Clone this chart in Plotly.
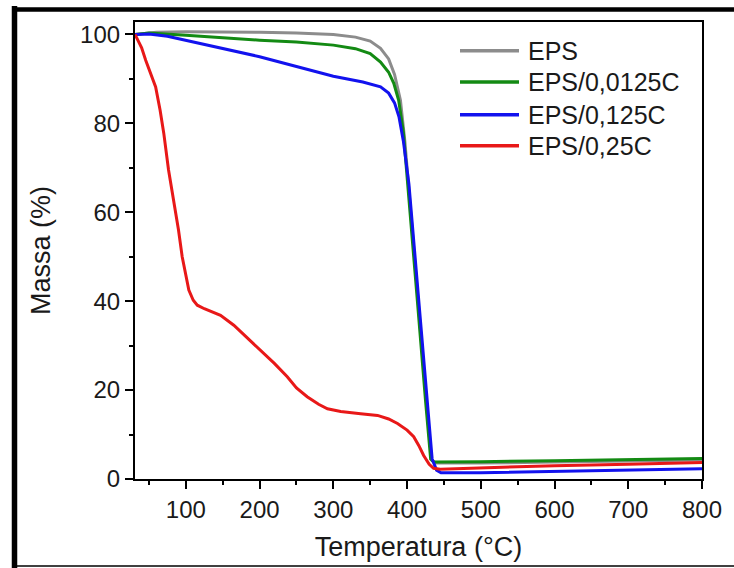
import plotly.graph_objects as go

# ---------------- data ----------------
names = ["EPS", "EPS/0,0125C", "EPS/0,125C", "EPS/0,25C"]
colors = ["#8c8c8c", "#138a13", "#1212ee", "#e81818"]

t_eps = [31, 60, 100, 150, 200, 250, 300, 330, 350, 364, 375, 383, 391, 397, 402, 415, 426, 433, 438, 500, 600, 700, 800]
m_eps = [100, 100.5, 100.6, 100.6, 100.5, 100.3, 100.0, 99.4, 98.5, 96.9, 94.5, 91.0, 85.2, 76.0, 66.4, 40.0, 17.7, 4.5, 3.6, 3.6, 3.8, 4.0, 4.3]

t_g = [31, 50, 100, 150, 200, 250, 300, 330, 350, 364, 375, 382, 388.6, 395, 400.5, 414, 425, 432, 436, 450, 500, 600, 700, 800]
m_g = [100, 100.3, 99.8, 99.2, 98.7, 98.3, 97.6, 96.8, 95.7, 93.8, 91.5, 89.0, 85.2, 78.0, 66.4, 40.0, 17.7, 4.5, 3.8, 3.8, 3.9, 4.1, 4.3, 4.6]

t_b = [31, 50, 75, 100, 150, 200, 250, 300, 340, 364, 375, 383, 389, 395, 402.5, 416, 427, 434, 440, 446, 500, 600, 700, 800]
m_b = [100, 100.1, 99.6, 98.7, 96.9, 95.0, 92.8, 90.6, 89.3, 88.2, 86.8, 84.6, 81.5, 76.0, 66.4, 40.0, 17.7, 4.5, 2.0, 1.4, 1.4, 1.7, 2.0, 2.3]

t_r = [31, 35, 40, 45.5, 52, 59, 65, 70, 76.5, 83.7, 90, 95, 100, 104, 110, 115.5, 125, 135, 147, 165, 185, 201, 220, 237.5, 250, 264.5, 280, 292, 310, 337, 360, 375, 387, 400, 409, 416, 422.5, 430, 436, 445, 500, 600, 700, 800]
m_r = [100, 98.5, 97.0, 94.2, 91.5, 88.2, 83.0, 77.8, 69.5, 62.7, 56.0, 50.0, 45.5, 42.5, 40.2, 39.1, 38.3, 37.6, 36.8, 34.6, 31.5, 29.0, 26.0, 23.0, 20.5, 18.5, 16.8, 15.8, 15.2, 14.7, 14.3, 13.5, 12.5, 11.0, 9.5, 7.5, 5.3, 3.3, 2.4, 2.2, 2.5, 3.0, 3.3, 3.7]

x_ticks = [100, 200, 300, 400, 500, 600, 700, 800]
y_ticks = [0, 20, 40, 60, 80, 100]

series = [(t_eps, m_eps), (t_g, m_g), (t_b, m_b), (t_r, m_r)]

# ---------------- layout constants (pixels) ----------------
W, H = 734, 568
L, R, T, B = 135, 32, 22, 89
PW, PH = W - L - R, H - T - B

def px(x):
    return (x - L) / PW

def py(y):
    return (H - B - y) / PH

FONT = "Arial, Liberation Sans, sans-serif"
TXT = "#1a1a1a"

fig = go.Figure()
for (tx, my), n, c in zip(series, names, colors):
    fig.add_trace(go.Scatter(x=tx, y=my, mode="lines", name=n,
                             line=dict(color=c, width=3), showlegend=False))

axis_common = dict(showline=True, linecolor="black", linewidth=2.2, mirror=True,
                   ticks="outside", ticklen=8, tickwidth=2, tickcolor="black",
                   showgrid=False, zeroline=False,
                   tickfont=dict(family=FONT, size=24, color=TXT))

fig.update_xaxes(range=[31, 800], tickvals=x_ticks,
                 minor=dict(ticks="outside", ticklen=4, tickwidth=2, tickcolor="black", dtick=50, tick0=0, showgrid=False),
                 title=dict(text="Temperatura (°C)", font=dict(family=FONT, size=27, color=TXT), standoff=15),
                 **axis_common)
fig.update_yaxes(range=[0, 102.8], tickvals=y_ticks,
                 minor=dict(ticks="outside", ticklen=4, tickwidth=2, tickcolor="black", dtick=10, tick0=0, showgrid=False),
                 title=dict(text="Massa (%)", font=dict(family=FONT, size=27, color=TXT), standoff=22),
                 **axis_common)

shapes = []
annotations = []
# manual legend
leg_rows = [50.7, 82.0, 114.7, 145.7]
for n, c, yy in zip(names, colors, leg_rows):
    shapes.append(dict(type="line", xref="paper", yref="paper",
                       x0=px(460), x1=px(519), y0=py(yy), y1=py(yy),
                       line=dict(color=c, width=3.5)))
    annotations.append(dict(xref="paper", yref="paper", x=px(526), y=py(yy),
                            xanchor="left", yanchor="middle", showarrow=False,
                            text=n, font=dict(family=FONT, size=25, color=TXT)))

# outer image frame
shapes.append(dict(type="line", xref="paper", yref="paper", x0=px(14.5), x1=px(14.5),
                   y0=py(6), y1=py(568), line=dict(color="black", width=5.5)))
shapes.append(dict(type="line", xref="paper", yref="paper", x0=px(12), x1=px(734),
                   y0=py(9.5), y1=py(9.5), line=dict(color="black", width=4.5)))
shapes.append(dict(type="line", xref="paper", yref="paper", x0=px(12), x1=px(734),
                   y0=py(566), y1=py(566), line=dict(color="black", width=1.5)))

fig.update_layout(width=W, height=H, margin=dict(l=L, r=R, t=T, b=B, autoexpand=False),
                  paper_bgcolor="white", plot_bgcolor="white",
                  shapes=shapes, annotations=annotations, showlegend=False)

fig.write_html("out.html", config={"displayModeBar": False},
               post_script="document.body.style.margin='0';document.body.style.overflow='hidden';")
